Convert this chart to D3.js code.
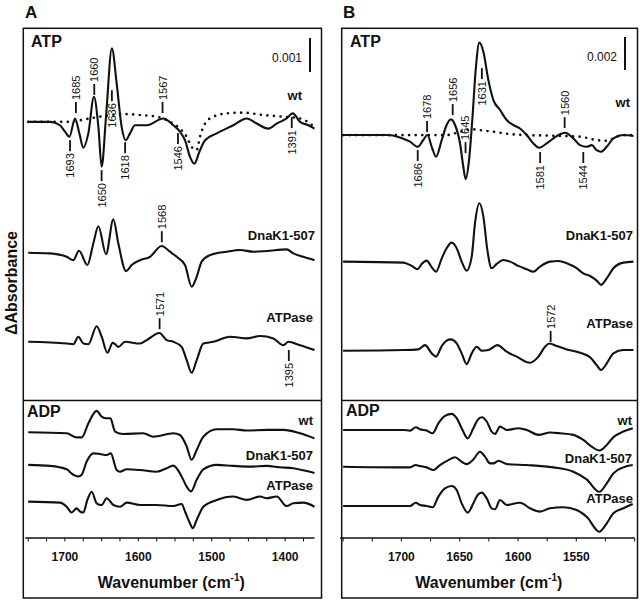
<!DOCTYPE html>
<html><head><meta charset="utf-8">
<script src="https://cdn.jsdelivr.net/npm/d3@7"></script>
<style>
html,body{margin:0;padding:0;background:#fff;}
svg{display:block;font-family:"Liberation Sans",Arial,sans-serif;}
</style></head>
<body>
<svg id="chart" width="640" height="601"></svg>
<script>
// ---------------- DATA ----------------
// wavenumber (cm-1), deltaA in units of 1e-3
const ticksA = [1700, 1600, 1500, 1400];
const ticksB = [1700, 1650, 1600, 1550];
const traceNames = ["wt", "DnaK1-507", "ATPase"];

const aAtpWt = [[1750,0],[1720,0],[1706.7,-0.1],[1699.9,-0.29],[1693.9,-0.44],[1686.2,0.1],[1680.3,-0.34],[1674.9,-0.76],[1668.1,-0.34],[1660.4,0.74],[1654.4,-0.15],[1649.9,-1.32],[1644,0.15],[1636,2.16],[1629.5,1.13],[1622.7,-0.15],[1617.2,-0.54],[1611.3,-0.34],[1604.5,-0.1],[1588.6,-0.1],[1565.9,0.1],[1552.3,-0.1],[1543.2,-0.29],[1536.4,-0.54],[1529.6,-1.03],[1523.7,-1.23],[1516.8,-0.88],[1509.1,-0.54],[1493.2,-0.34],[1470.5,-0.1],[1452.4,0.1],[1438.7,-0.05],[1422.9,-0.2],[1411.5,-0.05],[1397.9,0.1],[1389.7,0.25],[1379.7,0],[1368.4,-0.1],[1360,-0.2]];
const aAtpWtDotted = [[1750,0],[1697.6,0],[1665.8,0.1],[1647.6,0.17],[1620.4,0.23],[1597.7,0.2],[1575,0.15],[1556.8,0],[1543.2,-0.2],[1534.1,-0.44],[1527.3,-0.74],[1520.5,-0.83],[1516,-0.44],[1509.1,-0.05],[1497.8,0.15],[1479.6,0.25],[1456.9,0.27],[1429.7,0.2],[1402.4,0.15],[1379.7,0.1],[1360,-0.15]];
const aAtpDnaK = [[1750,0],[1720.3,-0.02],[1697.6,-0.12],[1688.5,-0.22],[1680.8,0.06],[1669.4,-0.36],[1661.3,0.27],[1654.4,0.78],[1644,-0.04],[1634,0.98],[1627.2,0.27],[1616.7,-0.54],[1609,-0.36],[1597.7,-0.22],[1584.1,-0.12],[1568.2,0.2],[1556.8,0.03],[1547.7,-0.12],[1536.4,-0.36],[1527.3,-1.0],[1520.5,-0.71],[1513.7,-0.26],[1502.3,-0.07],[1479.6,0.03],[1461.4,0.08],[1443.3,0.03],[1425.1,0.05],[1397.9,0.1],[1388.8,-0.02],[1375.2,-0.12],[1360,-0.22]];
const aAtpAtpase = [[1750,0],[1697.6,-0.05],[1688.5,-0.07],[1681.7,0.15],[1674.9,-0.05],[1668.1,-0.07],[1656.7,0.46],[1649.9,0.15],[1642.2,-0.32],[1634.9,-0.03],[1631.7,-0.07],[1627.2,-0.15],[1618.1,0],[1597.7,-0.05],[1588.6,0.05],[1571.3,0.26],[1561.4,0.05],[1552.3,0],[1541,-0.15],[1534.1,-0.54],[1527.3,-0.91],[1520.5,-0.54],[1511.4,-0.05],[1497.8,0],[1475.1,0.15],[1452.4,0.1],[1434.2,0.17],[1416,0.1],[1402.4,-0.1],[1395.6,0],[1379.7,-0.1],[1360,-0.24]];
const aAdpWt = [[1750,0],[1697.6,-0.03],[1684,-0.15],[1677.1,-0.15],[1668.1,0.26],[1656.7,0.63],[1649.9,0.46],[1643.1,0.41],[1638,0.41],[1631.7,0.02],[1620.4,-0.05],[1593.1,-0.03],[1579.5,-0.13],[1552.3,-0.03],[1543.2,-0.08],[1534.1,-0.42],[1527.3,-0.81],[1520.5,-0.52],[1511.4,-0.13],[1493.2,0.09],[1470.5,0.09],[1452.4,0.05],[1425.1,0.07],[1402.4,0.07],[1379.7,-0.03],[1360,-0.18]];
const aAdpDnaK = [[1750,0],[1720.3,-0.03],[1697.6,-0.13],[1688.5,-0.29],[1681.7,-0.34],[1677.1,-0.29],[1670.3,0.1],[1661.3,0.34],[1652.2,0.32],[1643.1,0.29],[1637.5,0.34],[1629.5,-0.15],[1625,-0.2],[1615.8,-0.13],[1597.7,-0.15],[1575,-0.2],[1561.4,-0.1],[1552.3,-0.02],[1541,-0.34],[1534.1,-0.64],[1528.2,-0.78],[1520.5,-0.44],[1511.4,-0.13],[1493.2,0],[1470.5,-0.03],[1447.8,-0.05],[1425.1,-0.03],[1407,-0.07],[1388.8,-0.1],[1375.2,-0.16],[1360,-0.24]];
const aAdpAtpase = [[1750,0],[1706.7,-0.03],[1697.6,-0.15],[1690.8,-0.32],[1684,-0.2],[1679.4,-0.29],[1674.9,-0.32],[1669.4,0.05],[1663.5,0.29],[1656.7,-0.05],[1649.9,-0.1],[1643.1,0.1],[1634,-0.1],[1624.9,-0.15],[1615.8,-0.03],[1597.7,-0.1],[1575,-0.1],[1552.3,-0.13],[1541,-0.07],[1536.4,-0.29],[1529.6,-0.64],[1526,-0.78],[1520.5,-0.54],[1511.4,-0.15],[1493.2,0.05],[1470.5,0.15],[1452.4,0.05],[1434.2,0.15],[1425.1,0.1],[1411.5,0.15],[1397.9,-0.13],[1388.8,-0.05],[1375.2,-0.03],[1360,-0.15]];

const bAtpWt = [[1750,0],[1712.6,0],[1701.2,-0.14],[1692.6,-0.4],[1686,-0.71],[1681.2,-0.3],[1677.7,0],[1674,-0.71],[1670.3,-1.31],[1665.4,-0.3],[1661.2,0.61],[1657.5,0.95],[1654,0.61],[1649.7,-0.51],[1646.9,-1.92],[1644.9,-2.67],[1642,-1.52],[1639.2,0.91],[1636.3,3.94],[1633.1,5.6],[1629.7,5.05],[1625.4,3.33],[1621.1,2.12],[1615.4,1.52],[1609.7,0.91],[1604,0.61],[1598.3,0.4],[1592.5,0],[1586.8,-0.51],[1582,-0.77],[1575.4,-0.51],[1566.8,-0.06],[1559.7,0.14],[1552.5,-0.2],[1546.8,-0.61],[1541.1,-0.71],[1536.8,-0.61],[1532.5,-0.91],[1529.1,-1.01],[1523.9,-0.71],[1518.2,-0.2],[1509.6,0],[1501,-0.06]];
const bAtpWtDotted = [[1750,0],[1661.2,0],[1649.7,0.2],[1639.7,0.35],[1632.6,0.3],[1621.1,0.2],[1606.8,0.06],[1592.5,0],[1569.7,-0.04],[1546.8,-0.1],[1532.5,-0.3],[1523.9,-0.35],[1515.4,-0.1],[1506.8,0],[1501,0]];
const bAtpDnaK = [[1750,0],[1698.3,-0.06],[1691.2,-0.26],[1686,-0.46],[1682.6,-0.14],[1678.3,0.06],[1674,-0.34],[1670.3,-0.61],[1665.4,0.2],[1661.2,0.81],[1656.9,1.15],[1652.6,0.81],[1648.3,0],[1644,-0.55],[1639.7,0.3],[1636.9,2.32],[1633.1,3.54],[1629.7,2.73],[1626.3,0.71],[1622.6,-0.4],[1618.3,-0.14],[1612.6,0.1],[1606.8,0],[1599.7,-0.26],[1592.5,-0.46],[1586.8,-0.61],[1581.1,-0.3],[1572.5,0],[1565.4,0.04],[1558.2,-0.1],[1549.7,-0.4],[1544,-0.71],[1538.2,-0.87],[1532.5,-1.15],[1528.8,-1.41],[1523.9,-1.01],[1518.2,-0.4],[1509.6,-0.06],[1501,0]];
const bAtpAtpase = [[1750,0],[1698.3,0.04],[1685.5,0.08],[1679.7,0.34],[1674,-0.16],[1670.3,-0.36],[1665.4,0.28],[1661.2,0.61],[1657.5,0.69],[1652.6,0.44],[1648.3,-0.16],[1644,-0.81],[1639.7,-0.16],[1635.4,0.24],[1631.1,0],[1625.4,0.04],[1617.7,0.34],[1609.7,-0.06],[1601.1,-0.36],[1589.7,-0.73],[1582.5,-0.36],[1576.8,0.24],[1573.1,0.44],[1566.8,0.28],[1558.2,0.08],[1546.8,-0.12],[1538.2,-0.4],[1532.5,-0.87],[1528.8,-1.17],[1523.9,-0.77],[1518.2,-0.16],[1509.6,0.04],[1501,0.04]];
const bAdpWt = [[1750,0],[1698.3,0],[1692.6,-0.04],[1687.7,0.16],[1684,0.04],[1678.3,-0.04],[1673.2,-0.2],[1668.3,0.4],[1662.6,0.85],[1656.9,0.97],[1652.6,0.71],[1648.3,0.1],[1643.1,-0.51],[1638.3,0.1],[1634.6,0.61],[1631.1,0.77],[1626.8,0.51],[1622.6,-0.1],[1619.7,-0.24],[1615.4,0.2],[1609.7,0],[1599.7,0.1],[1592.5,0],[1582.5,-0.3],[1572.5,-0.16],[1564,-0.2],[1552.5,-0.3],[1544,-0.61],[1536.8,-1.01],[1530.2,-1.25],[1523.9,-0.91],[1518.2,-0.44],[1509.6,-0.1],[1501.6,0.1]];
const bAdpDnaK = [[1750,0],[1698.3,-0.04],[1692.6,-0.04],[1687.7,0.1],[1684,0.04],[1678.3,-0.04],[1672.6,-0.2],[1666.9,0.1],[1659.7,0.4],[1654,0.57],[1648.3,0.3],[1644,0.16],[1638.3,0.44],[1632.6,0.91],[1628.3,0.61],[1624,0.2],[1621.1,0.2],[1616.8,0.36],[1609.7,0.16],[1592.5,0.1],[1569.7,-0.04],[1552.5,-0.3],[1541.1,-0.77],[1530.2,-1.52],[1523.9,-1.01],[1518.2,-0.4],[1509.6,-0.04],[1501.6,0.1]];
const bAdpAtpase = [[1750,0],[1698.3,0],[1692.6,0],[1687.7,0.2],[1684,0.06],[1678.3,0],[1673.2,-0.08],[1668.3,0.57],[1662.6,1.07],[1656.9,1.21],[1652.6,0.97],[1648.3,0.16],[1643.1,-0.4],[1638.3,0.16],[1634.6,0.67],[1631.1,0.81],[1626.8,0.46],[1622.6,-0.14],[1619.7,-0.2],[1615.4,0.36],[1609.7,0.06],[1598.3,0.2],[1589.7,-0.14],[1581.1,-0.34],[1572.5,-0.14],[1561.1,-0.08],[1549.7,-0.24],[1541.1,-0.65],[1530.2,-1.56],[1523.9,-1.05],[1518.2,-0.44],[1509.6,-0.14],[1501.6,0.12]];

// peak labels: [wavenumber, deltaA level where tick starts (1e-3), direction]
const aAtpWtPeaks = [[1693,-0.54,"down"],[1685,0.26,"up"],[1660,0.79,"up"],[1650,-1.42,"down"],[1636,0.93,"down"],[1618,-0.6,"down"],[1567,0.26,"up"],[1546,-0.33,"down"],[1391,0.14,"down"]];
const aAtpDnaKPeaks = [[1568,0.31,"up"]];
const aAtpAtpasePeaks = [[1571,0.37,"up"],[1395,-0.24,"down"]];
const bAtpWtPeaks = [[1686,-0.91,"down"],[1678,0.18,"up"],[1656,1.21,"up"],[1645,-1.09,"up"],[1631,4.06,"down"],[1560,0.42,"up"],[1581,-1.03,"down"],[1544,-1.03,"down"]];
const bAtpAtpasePeaks = [[1572,0.53,"up"]];

// ---------------- LAYOUT ----------------
const svg = d3.select("#chart");
const AXIS_Y = 538;
const INK = "#111";

const panels = [
  { letter:"A", box:[23.3, 28.3, 321.5, 598], divider:400.5,
    x: d3.scaleLinear().domain([1750,1360]).range([28.2,314.5]),
    pxPerUnit:34, ticks:ticksA, minorStep:25,
    scaleBar:{value:1, label:"0.001", x:310, yTop:38},
    atp:[{data:aAtpWt, dotted:aAtpWtDotted, off:12.24, peaks:aAtpWtPeaks, lab:[302,100]},
         {data:aAtpDnaK, off:8.39, peaks:aAtpDnaKPeaks, lab:[315,240]},
         {data:aAtpAtpase, off:5.77, peaks:aAtpAtpasePeaks, lab:[313,321.5]}],
    adp:[{data:aAdpWt, off:3.11, lab:[313,425]},
         {data:aAdpDnaK, off:2.15, lab:[313,460]},
         {data:aAdpAtpase, off:1.07, lab:[313,490]}],
    letterPos:[25,18], atpPos:[31,47], adpPos:[27,416.5]
  },
  { letter:"B", box:[341.7, 28.3, 637.5, 598], divider:400.5,
    x: d3.scaleLinear().domain([1750,1500]).range([343.1,634.6]),
    pxPerUnit:16.5, ticks:ticksB, minorStep:25,
    scaleBar:{value:2, label:"0.002", x:625, yTop:37},
    atp:[{data:bAtpWt, dotted:bAtpWtDotted, off:24.42, peaks:bAtpWtPeaks, lab:[630,107]},
         {data:bAtpDnaK, off:16.75, lab:[633,240]},
         {data:bAtpAtpase, off:11.35, peaks:bAtpAtpasePeaks, lab:[633,328]}],
    adp:[{data:bAdpWt, off:6.55, lab:[632,425]},
         {data:bAdpDnaK, off:4.32, lab:[632,463]},
         {data:bAdpAtpase, off:1.94, lab:[633,503]}],
    letterPos:[343,18], atpPos:[350,46.5], adpPos:[346,416]
  }
];

panels.forEach(p => {
  const g = svg.append("g");
  const y = d3.scaleLinear().domain([0,1]).range([AXIS_Y, AXIS_Y - p.pxPerUnit]);
  const [x0,y0,x1,y1] = p.box;

  g.append("rect").attr("x",x0).attr("y",y0).attr("width",x1-x0).attr("height",y1-y0)
    .attr("fill","none").attr("stroke",INK).attr("stroke-width",1.5);
  g.append("line").attr("x1",x0).attr("x2",x1).attr("y1",p.divider).attr("y2",p.divider)
    .attr("stroke",INK).attr("stroke-width",1.5);

  svg.append("text").attr("x",p.letterPos[0]).attr("y",p.letterPos[1]).text(p.letter)
    .attr("font-size",17).attr("font-weight","bold").attr("fill",INK);
  g.append("text").attr("x",p.atpPos[0]).attr("y",p.atpPos[1]).text("ATP")
    .attr("font-size",16).attr("font-weight","bold").attr("fill",INK);
  g.append("text").attr("x",p.adpPos[0]).attr("y",p.adpPos[1]).text("ADP")
    .attr("font-size",16).attr("font-weight","bold").attr("fill",INK);

  // x axis
  const [r0,r1] = p.x.range();
  g.append("line").attr("x1",r0-3).attr("x2",r1).attr("y1",AXIS_Y).attr("y2",AXIS_Y)
    .attr("stroke",INK).attr("stroke-width",1.3);
  const dom = p.x.domain();
  const minor = d3.range(Math.ceil(dom[1]/p.minorStep)*p.minorStep, dom[0]+0.01, p.minorStep);
  g.selectAll(null).data(minor).enter().append("line")
    .attr("x1",d=>p.x(d)).attr("x2",d=>p.x(d)).attr("y1",AXIS_Y).attr("y2",AXIS_Y+3.5)
    .attr("stroke",INK).attr("stroke-width",1);
  g.selectAll(null).data(p.ticks).enter().append("text")
    .attr("x",d=>p.x(d)).attr("y",561).attr("text-anchor","middle")
    .attr("font-size",12).attr("font-weight","bold").attr("fill",INK).text(d=>d);
  const tt = g.append("text").attr("x",(r0+r1)/2).attr("y",588).attr("text-anchor","middle")
    .attr("font-size",16).attr("font-weight","bold").attr("fill",INK);
  tt.append("tspan").text("Wavenumber (cm");
  tt.append("tspan").text("-1").attr("font-size",10).attr("dy",-7);
  tt.append("tspan").text(")").attr("dy",7);

  // scale bar
  const sb = p.scaleBar;
  const barH = y(0) - y(sb.value);
  g.append("line").attr("x1",sb.x).attr("x2",sb.x).attr("y1",sb.yTop).attr("y2",sb.yTop+barH)
    .attr("stroke",INK).attr("stroke-width",2);
  g.append("text").attr("x",sb.x-8).attr("y",sb.yTop+24).attr("text-anchor","end")
    .attr("font-size",12).attr("fill",INK).text(sb.label);

  const line = off => d3.line().x(d=>p.x(d[0])).y(d=>y(d[1]+off)).curve(d3.curveMonotoneX);

  const all = p.atp.concat(p.adp);
  all.forEach((t,i) => {
    if (t.dotted) {
      g.append("path").attr("d", line(t.off)(t.dotted)).attr("fill","none")
        .attr("stroke",INK).attr("stroke-width",2.7).attr("stroke-linecap","round")
        .attr("stroke-dasharray","0 6.6");
    }
    g.append("path").attr("d", line(t.off)(t.data)).attr("fill","none")
      .attr("stroke",INK).attr("stroke-width",2.1).attr("stroke-linejoin","round");
    g.append("text").attr("x",t.lab[0]).attr("y",t.lab[1]).attr("text-anchor","end")
      .attr("font-size",13).attr("font-weight","bold").attr("fill",INK)
      .text(traceNames[i % 3]);
    (t.peaks||[]).forEach(pk => {
      const [wn, lvl, dir] = pk;
      const px = p.x(wn), py = y(lvl + t.off);
      const L = 11;
      const yEnd = dir === "up" ? py - L : py + L;
      g.append("line").attr("x1",px).attr("x2",px).attr("y1",py).attr("y2",yEnd)
        .attr("stroke",INK).attr("stroke-width",1.8);
      const ty = dir === "up" ? yEnd - 2 : yEnd + 2;
      g.append("text").attr("transform",`translate(${px},${ty}) rotate(-90)`)
        .attr("text-anchor", dir === "up" ? "start" : "end").attr("dy","0.36em")
        .attr("font-size",11).attr("fill",INK).text(wn);
    });
  });
});

// y-axis title
svg.append("text").attr("transform","translate(17,283) rotate(-90)").attr("text-anchor","middle")
  .attr("font-size",16).attr("font-weight","bold").attr("fill",INK).text("ΔAbsorbance");
</script>
</body></html>
